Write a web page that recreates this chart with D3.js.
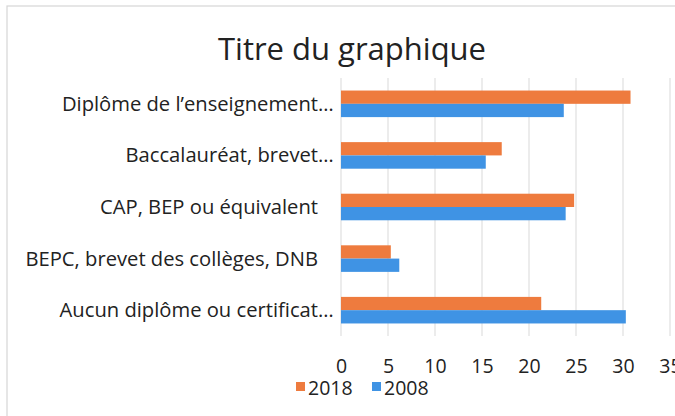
<!DOCTYPE html>
<html>
<head>
<meta charset="utf-8">
<script src="https://cdn.jsdelivr.net/npm/d3@7"></script>
<style>
  body { margin: 0; background: #fff; }
  svg { display: block; font-family: "Open Sans", Lato, sans-serif; }
</style>
</head>
<body>
<svg id="chart" width="675" height="416"></svg>
<script>
// categories top to bottom, as shown on the chart
var categories = [
    "Diplôme de l’enseignement…",
    "Baccalauréat, brevet…",
    "CAP, BEP ou équivalent",
    "BEPC, brevet des collèges, DNB",
    "Aucun diplôme ou certificat…"
];
var series = ["2018", "2008"];
var values2018 = [30.8, 17.1, 24.8, 5.3, 21.3];
var values2008 = [23.7, 15.4, 23.9, 6.2, 30.3];
var xTicks = [0, 5, 10, 15, 20, 25, 30, 35];
var colors = { "2018": "#ee7b3e", "2008": "#3f93e4" };

var svg = d3.select("#chart");

// chart border (light frame, runs off the right and bottom)
svg.append("rect")
    .attr("x", 7).attr("y", 6)
    .attr("width", 700).attr("height", 430)
    .attr("fill", "none")
    .attr("stroke", "#d6d6d6")
    .attr("stroke-width", 1.2);

// title
svg.append("text")
    .attr("x", 352).attr("y", 60)
    .attr("text-anchor", "middle")
    .attr("font-size", 31)
    .attr("fill", "#222")
    .text("Titre du graphique");

var x = d3.scaleLinear().domain([0, 35]).range([341, 670]);
var y = d3.scaleBand().domain(categories).range([78, 336])
    .paddingInner(0.485).paddingOuter(0.243);
var ySub = d3.scaleBand().domain(series).range([0, y.bandwidth()]);

// gridlines
svg.append("g").selectAll("line")
    .data(xTicks)
    .join("line")
    .attr("x1", d => x(d)).attr("x2", d => x(d))
    .attr("y1", 78).attr("y2", 336)
    .attr("stroke", "#d9d9d9")
    .attr("stroke-width", 1);

// bars
var rows = categories.map(function (c, i) {
    return { cat: c, vals: [
        { key: "2018", v: values2018[i] },
        { key: "2008", v: values2008[i] }
    ] };
});

var groups = svg.append("g").selectAll("g")
    .data(rows)
    .join("g")
    .attr("transform", d => "translate(0," + y(d.cat) + ")");

groups.selectAll("rect")
    .data(d => d.vals)
    .join("rect")
    .attr("x", x(0))
    .attr("y", d => ySub(d.key))
    .attr("width", d => x(d.v) - x(0))
    .attr("height", ySub.bandwidth())
    .attr("fill", d => colors[d.key]);

// category labels; a trailing ellipsis hangs past the label edge like in Excel
var labels = svg.append("g").selectAll("g")
    .data(categories)
    .join("g")
    .attr("transform", d => "translate(0," + (y(d) + y.bandwidth() / 2) + ")");

labels.append("text")
    .attr("x", 318)
    .attr("dy", "0.35em")
    .attr("text-anchor", "end")
    .attr("font-size", 20.2)
    .attr("fill", "#222")
    .text(d => d.replace("…", ""));

labels.filter(d => d.endsWith("…"))
    .append("text")
    .attr("x", 318)
    .attr("dy", "0.35em")
    .attr("font-size", 20.2)
    .attr("fill", "#222")
    .text("…");

// x axis tick labels
var xAxis = svg.append("g")
    .attr("transform", "translate(0,336)")
    .call(d3.axisBottom(x).tickValues(xTicks).tickSize(0).tickPadding(23));
xAxis.select(".domain").remove();
xAxis.selectAll("text")
    .attr("font-family", "'Open Sans', Lato, sans-serif")
    .attr("font-size", 19.5)
    .attr("fill", "#222");

// legend
var legendX = [296, 372];
var legend = svg.append("g").selectAll("g")
    .data(series)
    .join("g")
    .attr("transform", (d, i) => "translate(" + legendX[i] + ",382)");

legend.append("rect")
    .attr("width", 9).attr("height", 9)
    .attr("fill", d => colors[d]);

legend.append("text")
    .attr("x", 12)
    .attr("y", 13)
    .attr("font-size", 19.5)
    .attr("fill", "#222")
    .text(d => d);
</script>
</body>
</html>
